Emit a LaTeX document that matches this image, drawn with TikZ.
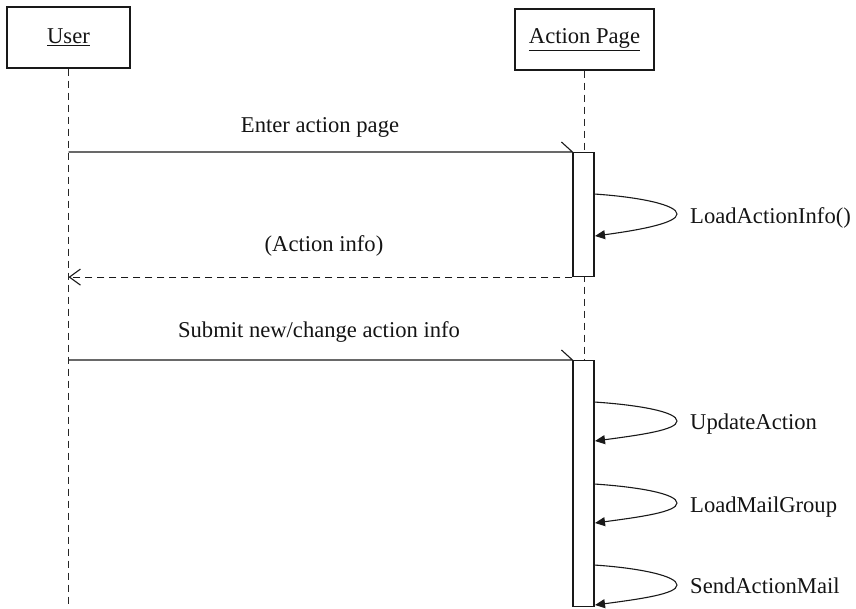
\documentclass[tikz,border=0pt]{standalone}
\usepackage{fontspec}
\setmainfont{Liberation Serif}
\usetikzlibrary{arrows.meta}
\begin{document}
\begin{tikzpicture}[x=1pt,y=-1pt,
  every node/.style={font=\fontsize{22.6}{27}\selectfont, text=black!92},
  objbox/.style={draw=black!90, line width=1.1pt, minimum height=61pt, inner sep=0pt},
  lifeline/.style={draw=black!85, line width=1pt, dash pattern=on 7pt off 5pt},
  actbar/.style={draw=black!90, fill=white, line width=1.1pt, minimum width=21pt, inner sep=0pt},
  msg/.style={draw=black!90, line width=1.1pt},
  ret/.style={draw=black!90, line width=1.1pt, dash pattern=on 7pt off 5pt, -{Straight Barb[length=11pt,width=16pt]}},
  selfcall/.style={draw=black!90, line width=1.1pt, -{Triangle[length=10pt,width=9pt]}},
  lbl/.style={anchor=base, inner sep=0pt},
  lblr/.style={anchor=base west, inner sep=0pt}]
\useasboundingbox (0,0) rectangle (856,608);

% objects
\node[objbox, minimum width=123pt] (user) at (68.5,37.5) {\underline{User}};
\node[objbox, minimum width=139pt] (page) at (584.5,39.5) {\underline{Action Page}};
\coordinate (userEnd) at (68.5,608);
\coordinate (pageEnd) at (584,608);
\draw[lifeline] (user.south) -- (userEnd);
\draw[lifeline] (page.south -| pageEnd) -- (pageEnd);

% activation bars
\node[actbar, minimum height=124pt, anchor=north] (act1) at (583.5,152) {};
\node[actbar, minimum height=246pt, anchor=north] (act2) at (583.5,360) {};

% message 1
\coordinate (u1) at (user.south |- act1.north);
\draw[msg] (u1) -- (act1.north west) -- ++(-11,-10);
\node[lbl] (t1) at (320,132) {Enter action page};

% self call 1
\coordinate (s1a) at (594,194);
\coordinate (s1t) at (677,214);
\coordinate (s1b) at (595,236);
\draw[selfcall] (s1a) .. controls +(46,3) and +(0,-9) .. (s1t) .. controls +(0,9) and +(45,-6) .. (s1b);
\node[lblr] (l1) at (690,223) {LoadActionInfo()};

% return
\coordinate (u2) at (user.south |- act1.south);
\draw[ret] (act1.south west) -- (u2);
\node[lbl] (t2) at (324,251) {(Action info)};

% message 2
\coordinate (u3) at (user.south |- act2.north);
\draw[msg] (u3) -- (act2.north west) -- ++(-11,-10);
\node[lbl] (t3) at (319,337) {Submit new/change action info};

% self calls on bar 2
\coordinate (s2a) at (594,402);
\coordinate (s2t) at (677,421);
\coordinate (s2b) at (595,441);
\draw[selfcall] (s2a) .. controls +(46,3) and +(0,-9) .. (s2t) .. controls +(0,9) and +(45,-6) .. (s2b);
\node[lblr] (l2) at (690,429) {UpdateAction};

\coordinate (s3a) at (594,484);
\coordinate (s3t) at (677,503);
\coordinate (s3b) at (595,523);
\draw[selfcall] (s3a) .. controls +(46,3) and +(0,-9) .. (s3t) .. controls +(0,9) and +(45,-6) .. (s3b);
\node[lblr] (l3) at (690,512) {LoadMailGroup};

\coordinate (s4a) at (594,565);
\coordinate (s4t) at (677,585);
\coordinate (s4b) at (595,605);
\draw[selfcall] (s4a) .. controls +(46,3) and +(0,-9) .. (s4t) .. controls +(0,9) and +(45,-6) .. (s4b);
\node[lblr] (l4) at (690,593) {SendActionMail};
\end{tikzpicture}
\end{document}
